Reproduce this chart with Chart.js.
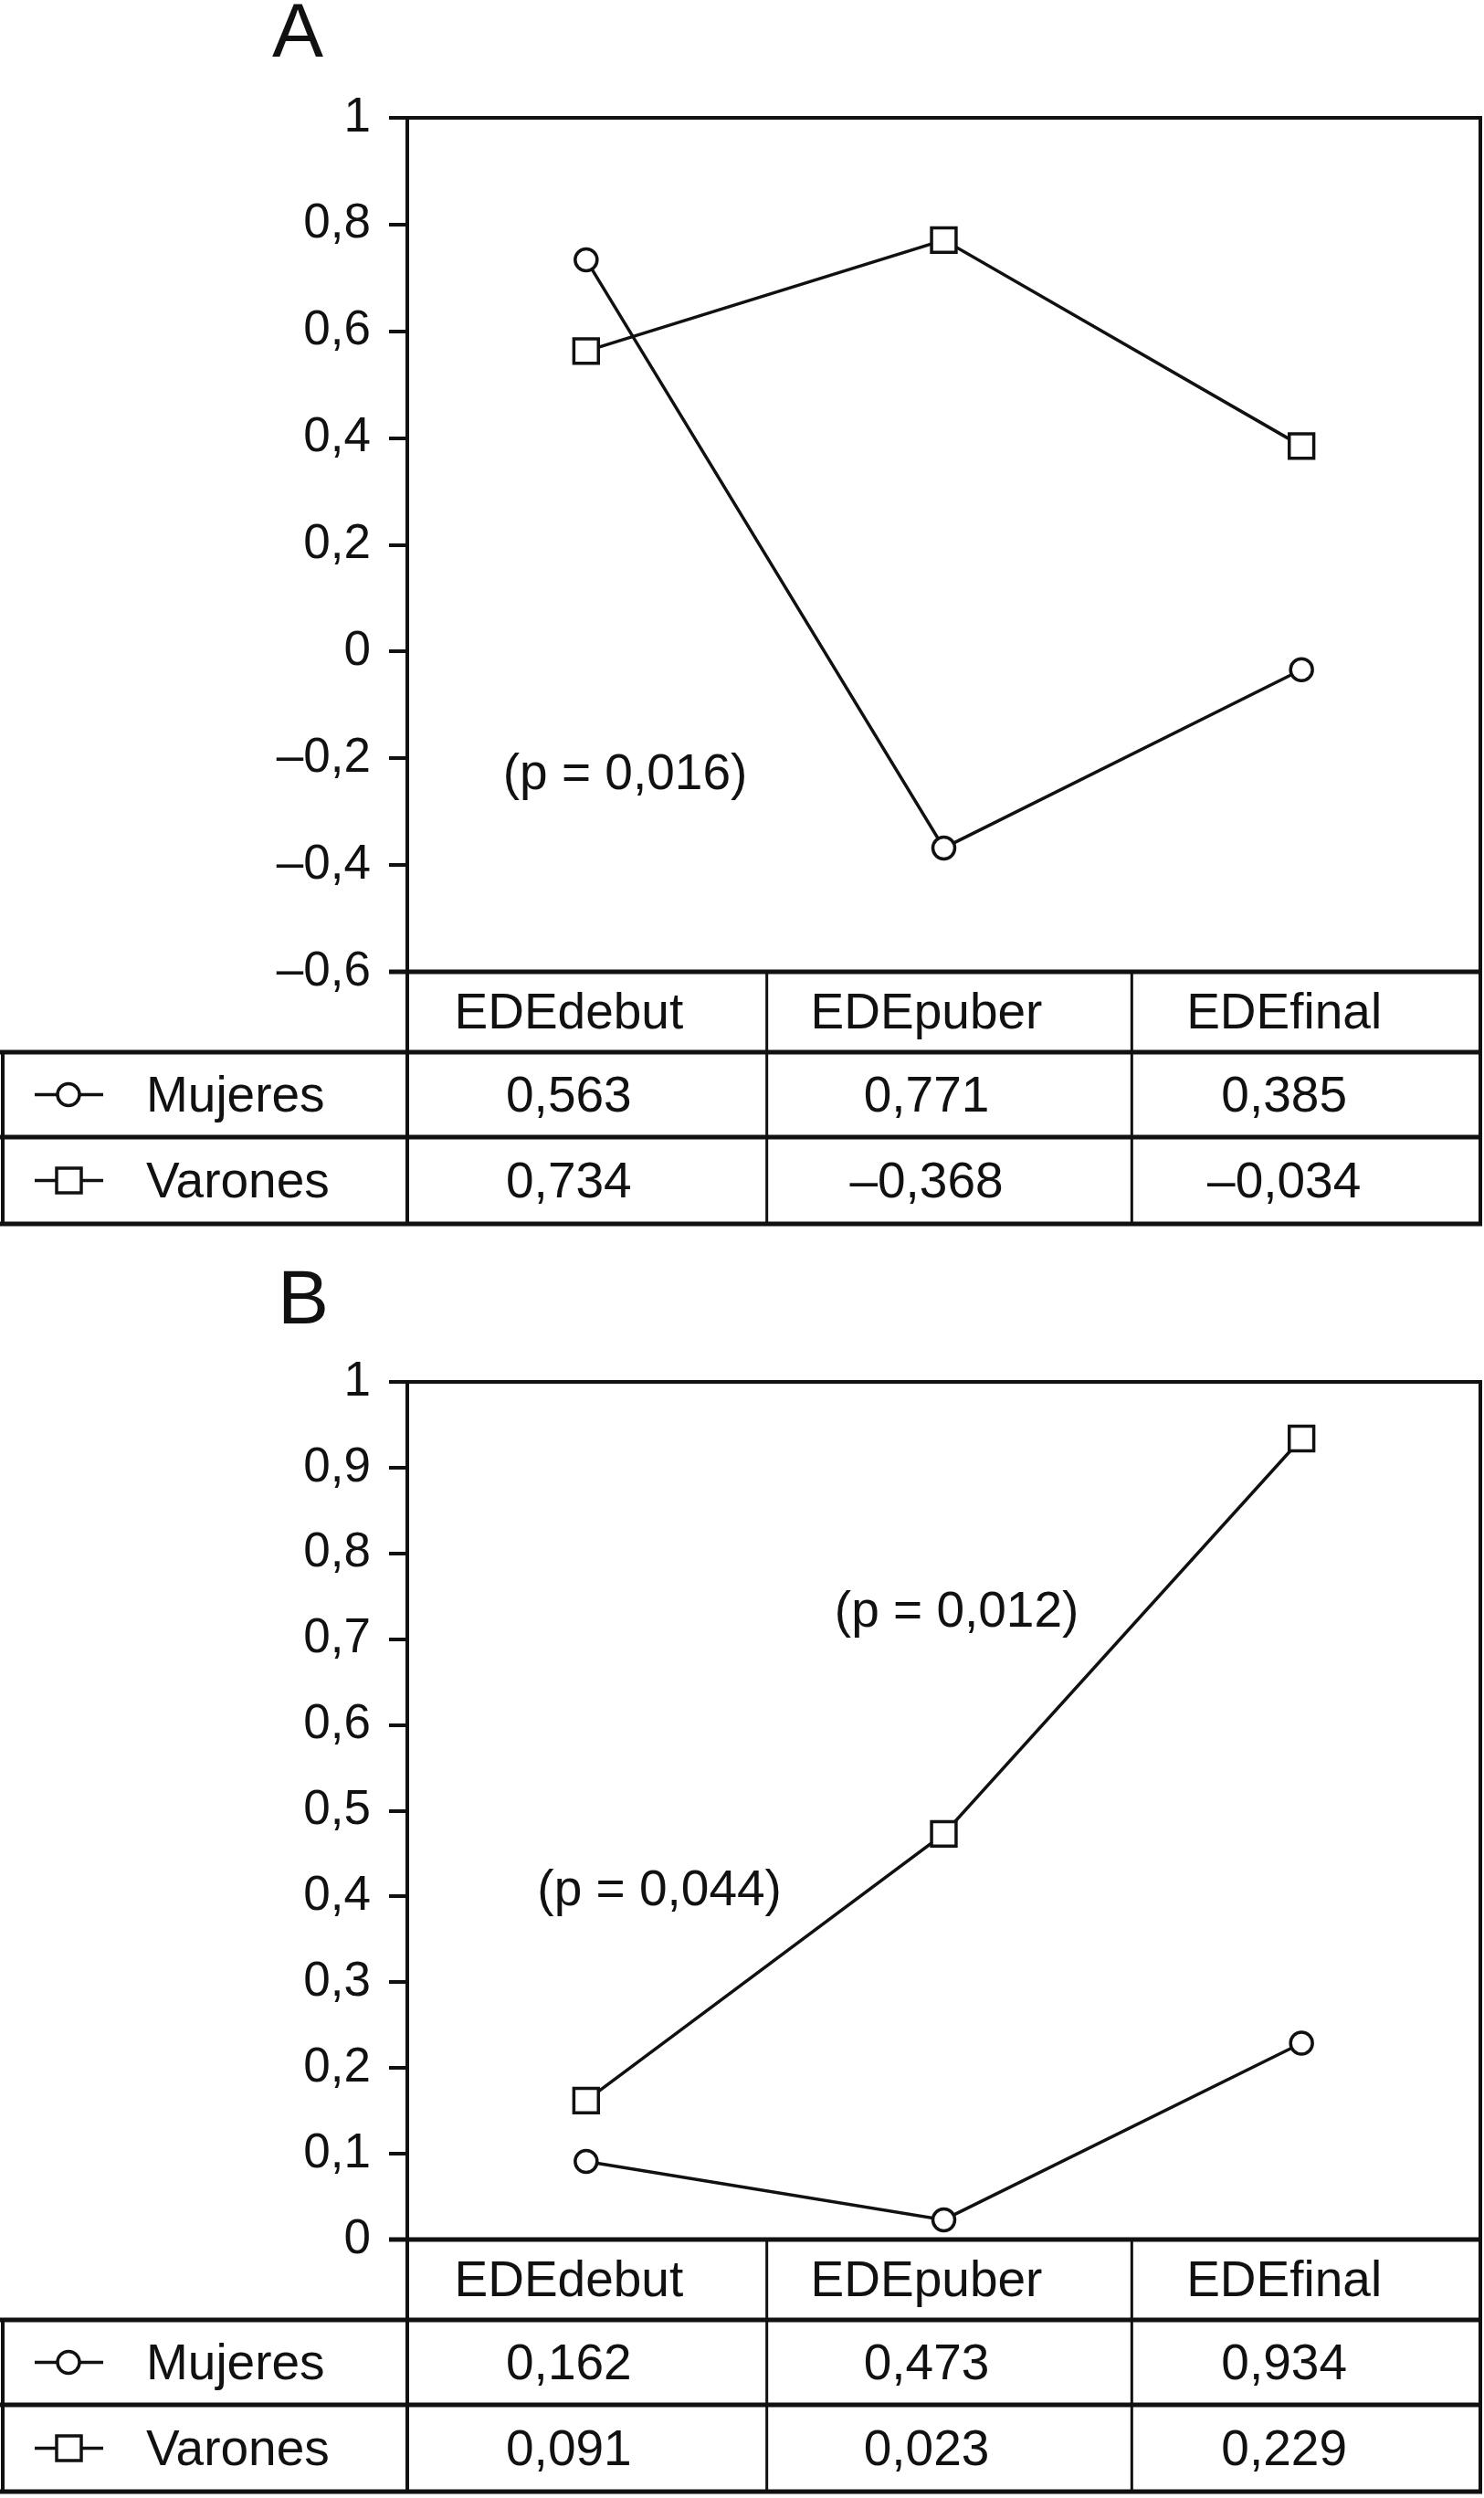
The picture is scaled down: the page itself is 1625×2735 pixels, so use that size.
<!DOCTYPE html>
<html>
<head>
<meta charset="utf-8">
<script src="https://cdn.jsdelivr.net/npm/chart.js@4.4.1/dist/chart.umd.min.js"></script>
<style>
  body { margin: 0; background: #fff; overflow: hidden; }
  canvas { display: block; }
  #panelB { margin-top: 5px; }
</style>
</head>
<body>
<canvas id="panelA" width="1625" height="1365"></canvas>
<canvas id="panelB" width="1625" height="1365"></canvas>
<script>
const categories = ['EDEdebut', 'EDEpuber', 'EDEfinal'];

// values as printed in the tables
const mujeresA = [0.563, 0.771, 0.385];
const varonesA = [0.734, -0.368, -0.034];
const mujeresB = [0.162, 0.473, 0.934];
const varonesB = [0.091, 0.023, 0.229];

// the figure plots the circles with the "Varones" numbers and the squares
// with the "Mujeres" numbers, kept as it is in the original
const circlesA = varonesA;
const squaresA = mujeresA;
const circlesB = varonesB;
const squaresB = mujeresB;

const ticksA = { min: -0.6, max: 1, step: 0.2 };
const ticksB = { min: 0, max: 1, step: 0.1 };

const notesA = [{ text: '(p = 0,016)', fx: 0.203, v: -0.227 }];
const notesB = [
  { text: '(p = 0,044)', fx: 0.235, v: 0.409 },
  { text: '(p = 0,012)', fx: 0.512, v: 0.734 }
];

const INK = '#111';
const FONT = "'Liberation Sans', Arial, sans-serif";

function coma(v, dec) {
  const s = dec == null ? String(Math.round(Math.abs(v) * 10) / 10) : Math.abs(v).toFixed(dec);
  return (v < 0 ? '\u2013' : '') + s.replace('.', ',');
}

const tablaPlugin = {
  id: 'tabla',
  afterDraw(chart, args, o) {
    const { ctx, chartArea: a, scales: { x, y } } = chart;
    const cols = categories.map((c, i) => x.getPixelForValue(i));
    const step = cols[1] - cols[0];
    const bounds = [a.left, cols[0] + step / 2 + 2, cols[1] + step / 2 + 10, a.right];
    const yH = a.bottom + 88, yM = yH + 93, yV = yM + 95;
    const tx = c => c - 19; // cell text sits a little left of centre

    ctx.save();
    ctx.strokeStyle = INK;
    ctx.lineCap = 'butt';
    const seg = (x1, y1, x2, y2, w) => {
      ctx.lineWidth = w;
      ctx.beginPath(); ctx.moveTo(x1, y1); ctx.lineTo(x2, y2); ctx.stroke();
    };
    // plot box
    seg(a.left - 20, a.top, a.right + 2, a.top, 4);
    seg(a.right, a.top, a.right, yV, 4);
    seg(a.left - 20, a.bottom, a.right + 2, a.bottom, 5);
    seg(a.left, a.top, a.left, yV, 4);
    // table
    seg(bounds[1], a.bottom, bounds[1], yV, 3);
    seg(bounds[2], a.bottom, bounds[2], yV, 3);
    seg(0, yH, a.right + 2, yH, 5);
    seg(0, yM, a.right + 2, yM, 5);
    seg(0, yV, a.right + 2, yV, 5);
    seg(3, yH, 3, yV, 4);

    ctx.fillStyle = INK;
    ctx.textBaseline = 'middle';
    ctx.textAlign = 'center';
    ctx.font = '55px ' + FONT;
    categories.forEach((c, i) => ctx.fillText(c, tx(cols[i]), (a.bottom + yH) / 2 + 3));
    o.rows.forEach((r, k) => {
      const cy = k === 0 ? (yH + yM) / 2 : (yM + yV) / 2;
      ctx.textAlign = 'center';
      r.values.forEach((v, i) => ctx.fillText(coma(v, 3), tx(cols[i]), cy + 3));
      ctx.textAlign = 'left';
      ctx.fillText(r.label, 160, cy + 3);
      // legend key
      seg(38, cy, 113, cy, 3.5);
      ctx.fillStyle = '#fff';
      ctx.lineWidth = 3.5;
      ctx.beginPath();
      if (r.marker === 'circle') ctx.arc(75, cy, 12, 0, Math.PI * 2);
      else ctx.rect(62, cy - 13.5, 27, 27);
      ctx.fill(); ctx.stroke();
      ctx.fillStyle = INK;
    });

    // notes inside the plot
    ctx.textAlign = 'center';
    o.notes.forEach(n => {
      ctx.fillText(n.text, a.left + n.fx * (a.right - a.left), y.getPixelForValue(n.v) + 3);
    });

    // panel letter
    ctx.textAlign = 'left';
    ctx.textBaseline = 'alphabetic';
    ctx.font = '84px ' + FONT;
    ctx.fillText(o.letter, o.letterX, o.letterY);
    ctx.restore();
  }
};

function makePanel(id, circles, squares, tk, padTop, padBottom, tabla) {
  const ctx = document.getElementById(id).getContext('2d');
  return new Chart(ctx, {
    type: 'line',
    data: {
      labels: categories,
      datasets: [{
        data: circles,
        borderColor: INK,
        borderWidth: 3.5,
        pointStyle: 'circle',
        pointRadius: 12,
        pointBorderWidth: 3.5,
        pointBackgroundColor: '#fff',
        pointBorderColor: INK,
        tension: 0
      }, {
        data: squares,
        borderColor: INK,
        borderWidth: 3.5,
        pointStyle: 'rect',
        pointRadius: 19,
        pointBorderWidth: 3.5,
        pointBackgroundColor: '#fff',
        pointBorderColor: INK,
        tension: 0
      }]
    },
    options: {
      responsive: false,
      animation: false,
      devicePixelRatio: 1,
      layout: {
        autoPadding: false,
        padding: { left: 0, right: 4, top: padTop, bottom: padBottom }
      },
      plugins: {
        legend: { display: false },
        tooltip: { enabled: false },
        tabla: tabla
      },
      scales: {
        x: {
          type: 'category',
          offset: true,
          display: false
        },
        y: {
          min: tk.min,
          max: tk.max,
          afterFit: s => { s.width = 446; },
          ticks: {
            stepSize: tk.step,
            padding: 20,
            color: INK,
            font: { family: FONT, size: 53 },
            callback: v => coma(v)
          },
          grid: {
            drawOnChartArea: false,
            color: INK,
            lineWidth: 4,
            tickLength: 20
          },
          border: { color: INK, width: 4 }
        }
      }
    },
    plugins: [tablaPlugin]
  });
}

makePanel('panelA', circlesA, squaresA, ticksA, 129, 1365 - 1064, {
  letter: 'A', letterX: 298, letterY: 62, notes: notesA,
  rows: [
    { label: 'Mujeres', marker: 'circle', values: mujeresA },
    { label: 'Varones', marker: 'rect', values: varonesA }
  ]
});

makePanel('panelB', circlesB, squaresB, ticksB, 143, 1365 - 1082, {
  letter: 'B', letterX: 304, letterY: 79, notes: notesB,
  rows: [
    { label: 'Mujeres', marker: 'circle', values: mujeresB },
    { label: 'Varones', marker: 'rect', values: varonesB }
  ]
});
</script>
</body>
</html>
